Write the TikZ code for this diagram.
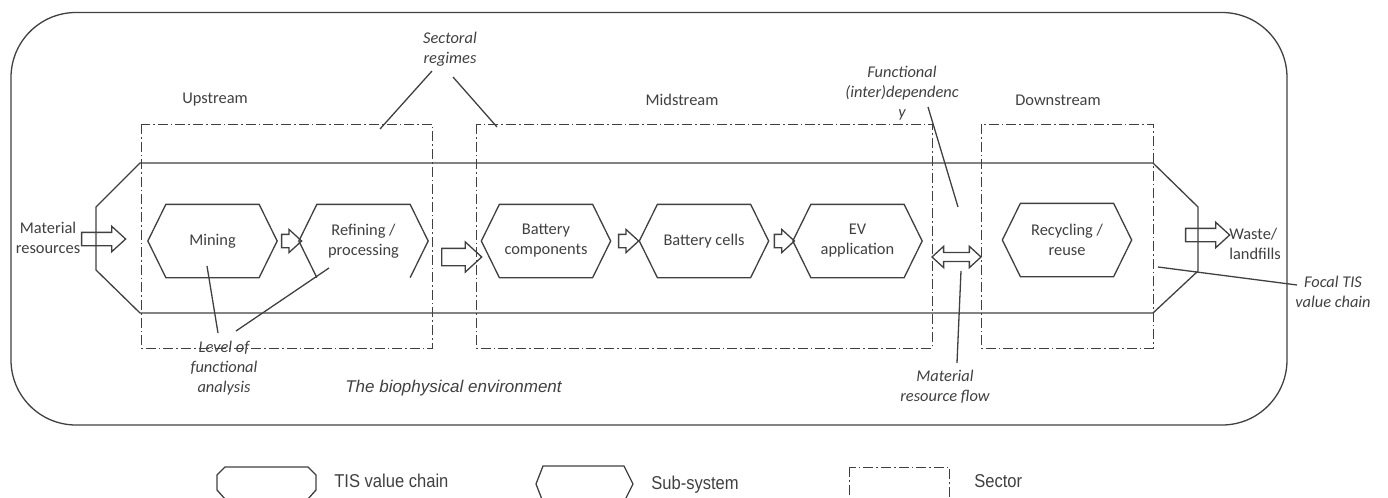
\documentclass[tikz,border=0pt]{standalone}
\usepackage{fontspec}
\setmainfont{Carlito}
\newfontfamily\arialfont{Liberation Sans}
\newfontfamily\narrowfont{Liberation Sans}[FakeStretch=0.89]
\usetikzlibrary{arrows,shapes.arrows,calc}
\definecolor{ink}{HTML}{404040}

\begin{document}
\begin{tikzpicture}[x=0.5pt,y=-0.5pt,line width=0.65pt,color=ink,
  every node/.style={font=\fontsize{8.2}{10}\selectfont},
  lbl/.style={align=center},
  note/.style={align=center,font=\fontsize{8.2}{10}\selectfont\itshape},
  legtext/.style={anchor=west,font=\narrowfont\fontsize{9.3}{11}\selectfont},
  subsys/.style={minimum width=46pt,minimum height=36pt,inner sep=0pt,align=center},
  sector/.style={line width=0.5pt,dash pattern=on 5pt off 1.5pt on 0.8pt off 1.5pt},
  blockarrow/.style n args={3}{single arrow,draw,inner xsep=0pt,inner ysep=#2,
    minimum height=#1,single arrow head extend=#3,single arrow tip angle=85}]
  \useasboundingbox (0,0) rectangle (1388,498);
  \clip (0,0) rectangle (1388,498);

  \draw[rounded corners=32.5pt] (11,12.5) rectangle (1287,425);
  \node[font=\arialfont\itshape\fontsize{8.5}{10}\selectfont] (env) at (453.5,388) {The biophysical environment};

  \draw[sector] (141,124) rectangle (432,348);
  \draw[sector] (476,124) rectangle (932,348);
  \draw[sector] (981,124) rectangle (1153,348);
  \node (up)   at (215,100)  {Upstream};
  \node (mid)  at (682,100)  {Midstream};
  \node (down) at (1058,100) {Downstream};

  \draw (140,163) -- (1153,163) -- (1198,207) -- (1198,271) -- (1153,313)
    -- (140,313) -- (96,270) -- (96,207) -- cycle;

  \node[subsys] (mining)   at (212.5,241) {Mining};
  \node[subsys] (refining) at (363.5,241) {Refining /\\processing};
  \node[subsys] (battcomp) at (546,241)   {Battery\\components};
  \node[subsys] (battcell) at (704,241)   {Battery cells};
  \node[subsys] (ev)       at (857.5,241) {EV\\application};
  \node[subsys] (recyc)    at (1067,240)  {Recycling /\\reuse};
  \foreach \n in {mining,battcomp,battcell,ev,recyc}
    \draw (\n.north west) -- (\n.north east) -- ([xshift=9pt]\n.east) -- (\n.south east)
      -- (\n.south west) -- ([xshift=-9pt]\n.west) -- cycle;
  \draw (refining.south west) -- ([xshift=-9pt]refining.west) -- (refining.north west)
    -- (refining.north east) -- ([xshift=9pt]refining.east) -- (refining.south east);

  \node[blockarrow={22pt}{3pt}{3pt}] (inflow) at (100,239) {};
  \node[blockarrow={10pt}{3pt}{2.5pt}] (a1) at ($(mining.east)!0.5!(refining.west)$) {};
  \node[blockarrow={20pt}{4pt}{3.25pt}] (a2) at (457,257) {};
  \node[blockarrow={10pt}{3pt}{2.5pt}] (a3) at ($(battcomp.east)!0.5!(battcell.west)$) {};
  \node[blockarrow={10pt}{3pt}{2.5pt}] (a4) at ($(battcell.east)!0.5!(ev.west)$) {};
  \node[double arrow,draw,inner xsep=0pt,inner ysep=1.9pt,minimum height=24.5pt,
    double arrow head extend=3.1pt,double arrow tip angle=85] (inter) at (956.5,257) {};
  \node[blockarrow={22pt}{3pt}{3pt}] (outflow) at (1204,235) {};

  \node[lbl] (matres) at (48,238) {Material\\resources};
  \node[lbl,align=left,anchor=west] (waste) at (1222,244) {Waste/\\landfills};
  \node[note] (sectreg) at (450,49)   {Sectoral\\regimes};
  \node[note] (funcdep) at (902,93)   {Functional\\(inter)dependenc\\y};
  \node[note] (matflow) at (945,387)  {Material\\resource flow};
  \node[note] (level)   at (224,368)  {Level of\\functional\\analysis};
  \node[note] (focal)   at (1333,292) {Focal TIS\\value chain};

  \coordinate (srA) at (380,129);
  \coordinate (srB) at (497,127);
  \coordinate (fdend) at (958,207);
  \coordinate (mfend) at (961,271);
  \coordinate (lvA) at (207,266);
  \coordinate (lvB) at (329,268);
  \coordinate (fcend) at (1158,267);
  \draw ([shift={(-9pt,-11pt)}]sectreg.center) -- (srA);
  \draw ([shift={(1.5pt,-14pt)}]sectreg.center) -- (srB);
  \draw ([shift={(13pt,-7pt)}]funcdep.center) -- (fdend);
  \draw ([shift={(6pt,12pt)}]matflow.center) -- (mfend);
  \draw ([shift={(-3pt,17.5pt)}]level.center) -- (lvA);
  \draw ([shift={(6pt,18.5pt)}]level.center) -- (lvB);
  \draw ([shift={(-18pt,3.5pt)}]focal.center) -- (fcend);

  \draw (225,467) -- (308,467) -- (316,475) -- (316,490) -- (308,499) -- (225,499)
    -- (217,490) -- (217,475) -- cycle;
  \node[legtext] (legtis) at (327,481) {TIS value chain};
  \draw (543,466) -- (624,466) -- (633,484) -- (624,502) -- (543,502) -- (536,484) -- cycle;
  \node[legtext] (legsub) at (644,485) {Sub-system};
  \draw[sector] (849,467) rectangle (949,520);
  \node[legtext] (legsec) at (967,481) {Sector};
\end{tikzpicture}
\end{document}
